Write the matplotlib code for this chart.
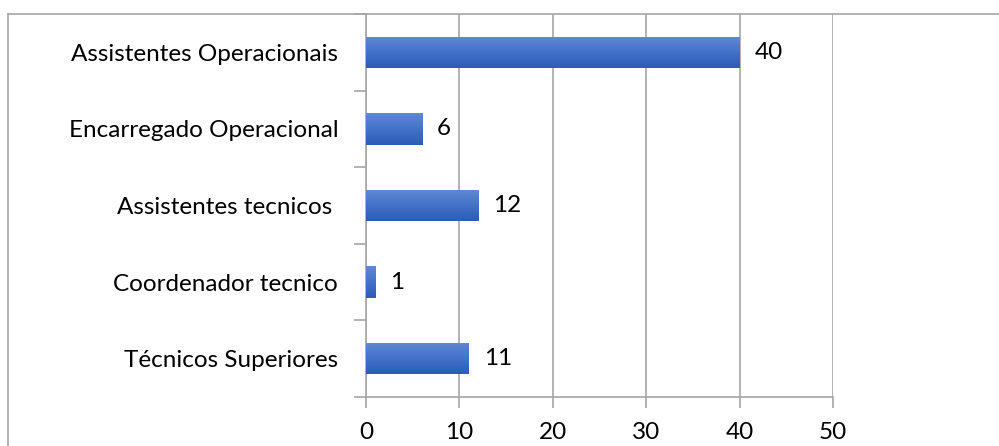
import matplotlib.pyplot as plt
import numpy as np
from matplotlib.colors import LinearSegmentedColormap

categories = ["Assistentes Operacionais", "Encarregado Operacional",
              "Assistentes tecnicos ", "Coordenador tecnico", "Técnicos Superiores"]
values = [40, 6, 12, 1, 11]
x_ticks = [0, 10, 20, 30, 40, 50]

plt.rcParams["font.family"] = ["Lato", "DejaVu Sans"]

fig = plt.figure(figsize=(9.99, 4.46), dpi=100)
ax = fig.add_axes([366 / 999, 49 / 446, 467 / 999, 383 / 446])

ypos = np.arange(len(categories))
bar_h = 0.41
bars = ax.barh(ypos, values, height=bar_h, color="#4470C8", zorder=2)

# vertical gradient inside each bar (lighter at top, darker at bottom)
cmap = LinearSegmentedColormap.from_list("g", ["#6088D4", "#4472C9", "#2C5BB8"])
grad = np.linspace(0, 1, 64).reshape(-1, 1)
for b in bars:
    x0, y0 = b.get_x(), b.get_y()
    w, h = b.get_width(), b.get_height()
    im = ax.imshow(grad, cmap=cmap, aspect="auto", zorder=3,
                   extent=(x0, x0 + w, y0 + h, y0), interpolation="bilinear")
    im.set_clip_path(b)

for y, v in zip(ypos, values):
    ax.text(v + 1.6, y, str(v), va="center", ha="left", fontsize=17.5, color="black")

ax.set_xlim(0, 50)
ax.set_ylim(len(categories) - 0.5, -0.5)
ax.set_xticks(x_ticks)
ax.set_yticks(ypos)
ax.set_yticklabels(categories)
ax.set_yticks(np.arange(-0.5, len(categories), 1), minor=True)

ax.grid(axis="x", color="#A6A6A6", linewidth=1.2, zorder=0)
ax.set_axisbelow(True)
ax.tick_params(axis="y", which="major", length=0, pad=20, labelsize=17.5)
ax.tick_params(axis="y", which="minor", length=9, color="#A6A6A6", width=1.2)
ax.tick_params(axis="x", length=8, color="#A6A6A6", width=1.2, pad=10, labelsize=17.5)

for s in ["top", "right"]:
    ax.spines[s].set_visible(False)
for s in ["left", "bottom"]:
    ax.spines[s].set_color("#A6A6A6")
    ax.spines[s].set_linewidth(1.2)

# outer chart frame
fig.add_artist(plt.Line2D([8 / 999, 1], [1 - 14 / 446, 1 - 14 / 446],
                          transform=fig.transFigure, color="#A6A6A6", linewidth=1.2))
fig.add_artist(plt.Line2D([8 / 999, 8 / 999], [0, 1 - 14 / 446],
                          transform=fig.transFigure, color="#A6A6A6", linewidth=1.2))

fig.savefig("out.png", dpi=100)
